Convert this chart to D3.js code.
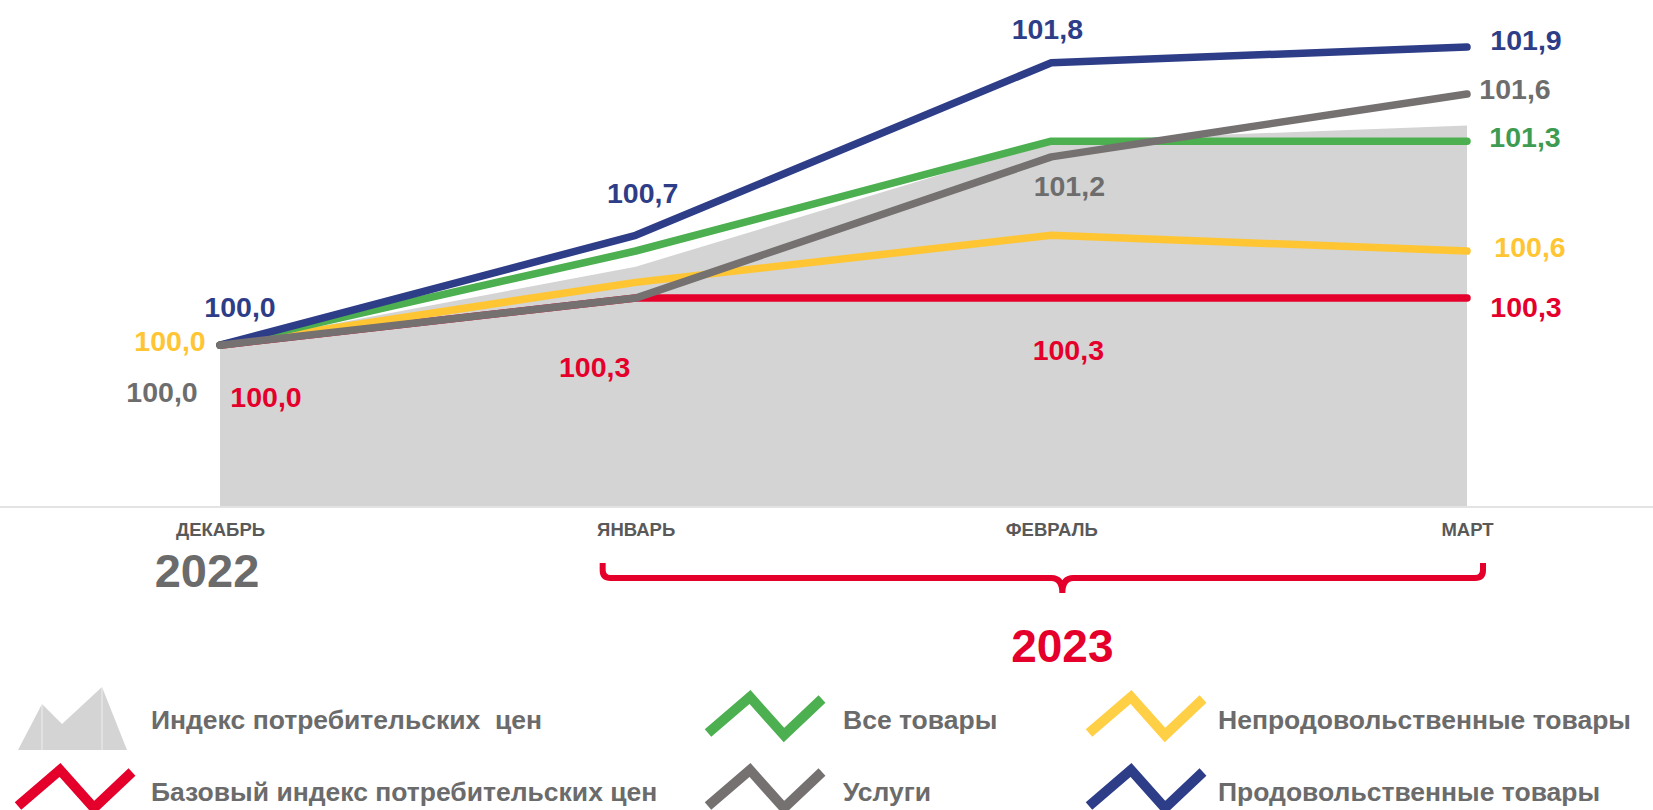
<!DOCTYPE html>
<html>
<head>
<meta charset="utf-8">
<script src="https://cdn.jsdelivr.net/npm/d3@7"></script>
<style>
    body { margin: 0; background: #fff; }
    #chart-area text { font-family: "Liberation Sans", Arial, sans-serif; font-weight: bold; }
</style>
</head>
<body>
<div id="chart-area"></div>
<script>

// months on the x axis
var months = ["ДЕКАБРЬ", "ЯНВАРЬ", "ФЕВРАЛЬ", "МАРТ"];

// index values, december 2022 = 100
var cpiValues = [100.0, 100.5, 101.3, 101.4];
var coreValues = [100.0, 100.3, 100.3, 100.3];
var nonFoodValues = [100.0, 100.4, 100.7, 100.6];
var allGoodsValues = [100.0, 100.6, 101.3, 101.3];
var servicesValues = [100.0, 100.3, 101.2, 101.6];
var foodValues = [100.0, 100.7, 101.8, 101.9];

var legendNames = ["Индекс потребительских  цен", "Все товары", "Непродовольственные товары",
    "Базовый индекс потребительских цен", "Услуги", "Продовольственные товары"];

var yearLeft = "2022";
var yearRight = "2023";

/*
 * PriceChart - Object constructor function
 */
PriceChart = function(_parentElement){
    this.parentElement = _parentElement;
    this.initVis();
}

PriceChart.prototype.initVis = function(){
    var vis = this;

    vis.width = 1653;
    vis.height = 810;

    vis.svg = d3.select("#" + vis.parentElement).append("svg")
        .attr("width", vis.width)
        .attr("height", vis.height);

    vis.x = d3.scalePoint()
        .domain(months)
        .range([220, 1467]);

    vis.y = d3.scaleLinear()
        .domain([98.975, 101.9])
        .range([506, 47]);

    // series drawn bottom to top, label offsets per point (null = no label)
    vis.series = [
        { values: coreValues, color: "#e4002b", text: "#e4002b",
          labels: [[46, 62], [-41, 79], [17, 62], [59, 19]] },
        { values: nonFoodValues, color: "#ffc533", text: "#ffc533",
          labels: [[-50, 6], null, null, [63, 6]] },
        { values: allGoodsValues, color: "#4caf50", text: "#3e9c52",
          labels: [null, null, null, [58, 6]] },
        { values: foodValues, color: "#2e3d87", text: "#2e3d87",
          labels: [[20, -28], [7, -32], [-4, -24], [59, 3]] },
        { values: servicesValues, color: "#767171", text: "#6d6d6d",
          labels: [[-58, 57], null, [18, 39], [48, 5]] }
    ];

    vis.fmt = function(v){ return d3.format(".1f")(v).replace(".", ","); };

    vis.updateVis();
}

PriceChart.prototype.updateVis = function(){
    var vis = this;

    var area = d3.area()
        .x(function(d, i){ return vis.x(months[i]); })
        .y0(vis.y(vis.y.domain()[0]))
        .y1(function(d){ return vis.y(d); });

    vis.svg.append("path")
        .attr("d", area(cpiValues))
        .attr("fill", "#d4d4d4");

    // thin baseline across the page
    vis.svg.append("line")
        .attr("x1", 0).attr("x2", vis.width)
        .attr("y1", 507).attr("y2", 507)
        .attr("stroke", "#dadada")
        .attr("stroke-width", 1.5);

    var line = d3.line()
        .x(function(d, i){ return vis.x(months[i]); })
        .y(function(d){ return vis.y(d); });

    vis.series.forEach(function(s){
        vis.svg.append("path")
            .attr("d", line(s.values))
            .attr("fill", "none")
            .attr("stroke", s.color)
            .attr("stroke-width", 7.5)
            .attr("stroke-linecap", "round")
            .attr("stroke-linejoin", "round");
    });

    vis.series.forEach(function(s){
        s.values.forEach(function(v, i){
            if (!s.labels[i]) return;
            vis.svg.append("text")
                .attr("x", vis.x(months[i]) + s.labels[i][0])
                .attr("y", vis.y(v) + s.labels[i][1])
                .attr("text-anchor", "middle")
                .attr("fill", s.text)
                .style("font-size", "28.5px")
                .text(vis.fmt(v));
        });
    });

    // month axis
    vis.xAxis = d3.axisBottom(vis.x)
        .tickSize(0)
        .tickPadding(17);

    var axisG = vis.svg.append("g")
        .attr("class", "x-axis axis")
        .attr("transform", "translate(0,506)")
        .call(vis.xAxis);
    axisG.select(".domain").remove();
    axisG.selectAll("text")
        .attr("fill", "#595959")
        .style("font-size", "18.5px")
        .style("font-family", "'Liberation Sans', Arial, sans-serif")
        .style("font-weight", "bold");

    vis.svg.append("text")
        .attr("x", 207).attr("y", 587)
        .attr("text-anchor", "middle")
        .attr("fill", "#6b6b6b")
        .style("font-size", "47px")
        .text(yearLeft);

    // red brace over 2023 months
    var bl = vis.x(months[1]) - 33,
        br = vis.x(months[3]) + 16,
        bm = vis.x(months[2]) + 11,
        by = 578;
    var brace = "M" + bl + "," + (by - 15) + "V" + (by - 8) + "Q" + bl + "," + by + " " + (bl + 8) + "," + by
        + "H" + (bm - 11) + "Q" + bm + "," + by + " " + bm + "," + (by + 15)
        + "M" + bm + "," + (by + 15) + "Q" + bm + "," + by + " " + (bm + 11) + "," + by
        + "H" + (br - 8) + "Q" + br + "," + by + " " + br + "," + (by - 8) + "V" + (by - 15);
    vis.svg.append("path")
        .attr("d", brace)
        .attr("fill", "none")
        .attr("stroke", "#e4002b")
        .attr("stroke-width", 6);

    vis.svg.append("text")
        .attr("x", bm).attr("y", 662)
        .attr("text-anchor", "middle")
        .attr("fill", "#e4002b")
        .style("font-size", "46px")
        .text(yearRight);

    // legend
    var colX = [18, 708, 1089],
        rowY = [697, 770],
        textX = [151, 843, 1218],
        textY = [729, 801];
    var legendColors = [null, "#4caf50", "#ffd046", "#e4002b", "#767171", "#2e3d87"];
    var zig = d3.line()([[0, 36], [42, 0], [76, 38], [114, 2]]);

    legendNames.forEach(function(name, i){
        var col = i % 3, row = Math.floor(i / 3);
        var g = vis.svg.append("g")
            .attr("transform", "translate(" + colX[col] + "," + rowY[row] + ")");
        if (i === 0) {
            g.append("path")
                .attr("d", "M0,53L24,7L44,27L84,-10L109,53Z")
                .attr("fill", "#d4d4d4");
            g.selectAll(".sep").data([24, 84]).enter().append("line")
                .attr("x1", function(d){ return d; }).attr("x2", function(d){ return d; })
                .attr("y1", function(d){ return d === 24 ? 7 : -10; }).attr("y2", 53)
                .attr("stroke", "#ffffff").attr("stroke-opacity", 0.6);
        } else {
            g.append("path")
                .attr("d", zig)
                .attr("fill", "none")
                .attr("stroke", legendColors[i])
                .attr("stroke-width", 10);
        }
        vis.svg.append("text")
            .attr("x", textX[col])
            .attr("y", textY[row])
            .attr("fill", "#6b6b6b")
            .style("font-size", "26.5px")
            .style("white-space", "pre")
            .text(name);
    });
}

var chart = new PriceChart("chart-area");

</script>
</body>
</html>
